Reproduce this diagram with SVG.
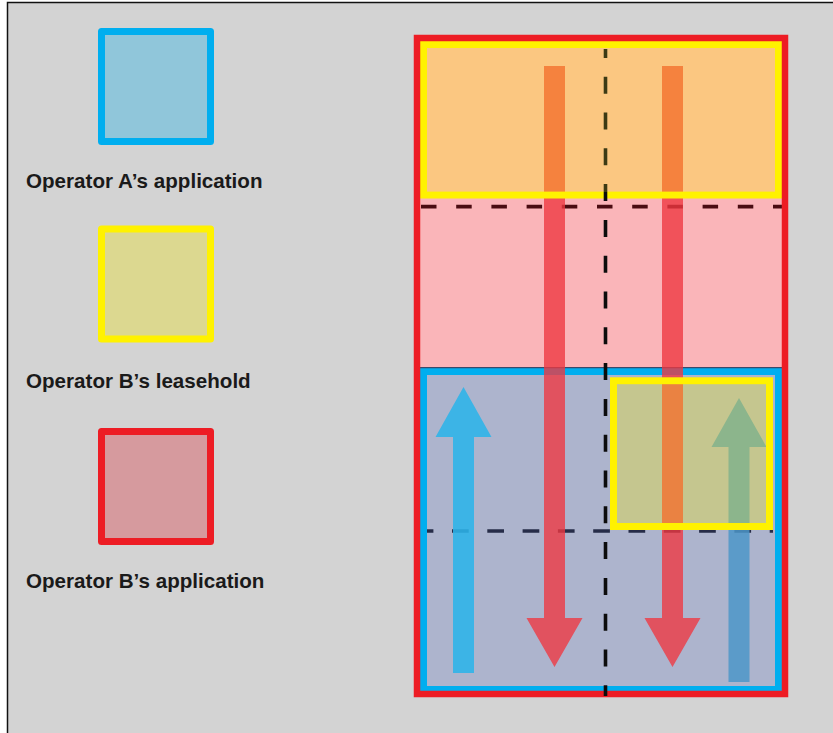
<svg xmlns="http://www.w3.org/2000/svg" width="833" height="733" viewBox="0 0 833 733">
  <defs>
    <style>
      .label { font-family: "Liberation Sans", Arial, sans-serif; font-size: 20.6px; font-weight: bold; fill: #1a1a1a; }
      .key { stroke-width: 7; stroke-linejoin: round; }
      .tint { fill: #fff200; opacity: 0.3; }
      .arrow-red { fill: #ee3841; opacity: 0.79; }
    </style>
    <linearGradient id="vdash" gradientUnits="userSpaceOnUse" x1="0" y1="44" x2="0" y2="697">
      <stop offset="0" stop-color="#3c3a14"/>
      <stop offset="0.2266" stop-color="#3c3a14"/>
      <stop offset="0.2266" stop-color="#0c0c0c"/>
      <stop offset="1" stop-color="#0c0c0c"/>
    </linearGradient>
  </defs>

  <!-- page and frame -->
  <rect x="0" y="0" width="833" height="733" fill="#ffffff"/>
  <rect x="7.5" y="2.5" width="826" height="731" fill="#d3d3d3"/>
  <path d="M7.5,733 V2.5 H833" fill="none" stroke="#111" stroke-width="1.5"/>

  <!-- legend -->
  <g id="legend-a">
    <rect class="key" x="101.5" y="31.5" width="109" height="110" fill="#90c6da" stroke="#00aeef"/>
    <text class="label" x="26" y="188">Operator A’s application</text>
  </g>
  <g id="legend-b-lease">
    <rect class="key" x="101.5" y="229" width="109" height="110" fill="#dcd890" stroke="#fff200"/>
    <text class="label" x="26" y="388">Operator B’s leasehold</text>
  </g>
  <g id="legend-b-app">
    <rect class="key" x="101.5" y="431.5" width="109" height="110" fill="#d69a9e" stroke="#ed1c24"/>
    <text class="label" x="26" y="587.5">Operator B’s application</text>
  </g>

  <!-- area fills -->
  <g id="b-application-fill">
    <rect x="417" y="38" width="368" height="656" fill="#fab5b9"/>
  </g>
  <g id="a-application-fill">
    <rect x="423.5" y="371.5" width="355" height="318" fill="#adb4cd"/>
  </g>

  <!-- grid lines under the flows -->
  <g id="grid" fill="none">
    <line x1="421" y1="206.7" x2="782" y2="206.7" stroke="#4a0c12" stroke-width="3.8" stroke-dasharray="15.5 19.7"/>
    <line x1="426" y1="531" x2="773" y2="531" stroke="#262c48" stroke-width="3.5" stroke-dasharray="16.7 18.6" stroke-dashoffset="9.3"/>
  </g>

  <!-- A's application outline -->
  <g id="a-application">
    <rect x="423.5" y="371.5" width="355" height="318" fill="none" stroke="#00aeef" stroke-width="7"/>
    <line x1="420" y1="367.6" x2="782" y2="367.6" stroke="#3b4a6b" stroke-width="1.4"/>
  </g>

  <!-- flows -->
  <g id="connectors">
    <path class="arrow-red" d="M544,66 H565 V618 H582.5 L554.5,667 L526.5,618 H544 Z"/>
    <path class="arrow-red" d="M662,66 H683 V618 H700.5 L672.5,667 L644.5,618 H662 Z"/>
    <path d="M453,673 V437 H435.5 L463.5,387 L491.5,437 H474 V673 Z" fill="#2cb4e9" opacity="0.88"/>
    <path d="M728.5,682 V447 H711.5 L739,398 L766.5,447 H749.5 V682 Z" fill="#4c97c8" opacity="0.85"/>
  </g>

  <!-- B's leasehold areas -->
  <g id="b-leasehold-top">
    <rect class="tint" x="427" y="48" width="348" height="143.5"/>
    <rect x="423.5" y="44.5" width="355" height="150.5" fill="none" stroke="#fff200" stroke-width="7"/>
  </g>
  <g id="b-leasehold-corner">
    <rect class="tint" x="617" y="384.3" width="149" height="139"/>
    <rect x="613.5" y="380.8" width="156" height="145.7" fill="none" stroke="#fff200" stroke-width="7"/>
  </g>

  <!-- B's application outline -->
  <g id="b-application">
    <rect x="417" y="38" width="368" height="656" fill="none" stroke="#ed1c24" stroke-width="6.5"/>
  </g>

  <!-- centre divider -->
  <g id="divider">
    <line x1="605.5" y1="49" x2="605.5" y2="696" stroke="url(#vdash)" stroke-width="3.6" stroke-dasharray="17 18.8" stroke-dashoffset="8.1"/>
  </g>
</svg>
